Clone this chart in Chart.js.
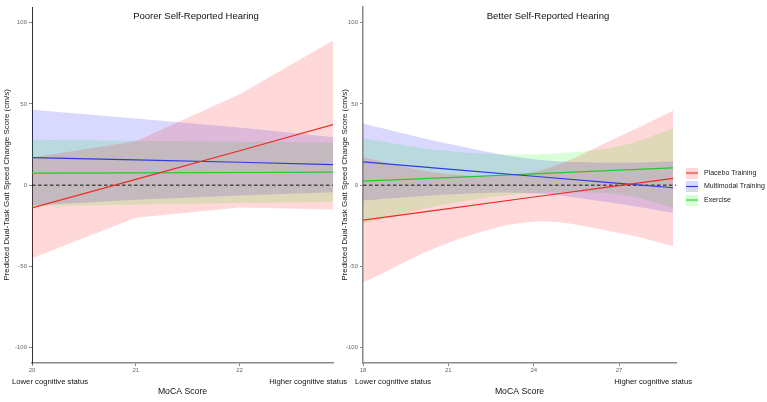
<!DOCTYPE html>
<html><head><meta charset="utf-8">
<script src="https://cdn.jsdelivr.net/npm/chart.js@4.4.1/dist/chart.umd.min.js"></script>
<style>
html,body{margin:0;padding:0;background:#fff;overflow:hidden;width:767px;height:402px;}
#c1{position:absolute;left:0;top:0;width:350px;height:402px;}
#c2{position:absolute;left:340px;top:0;width:427px;height:402px;}
</style></head><body>
<canvas id="c1" width="350" height="402"></canvas>
<canvas id="c2" width="427" height="402"></canvas>
<script>
// ---------- data ----------
const seriesNames = ['Placebo Training', 'Multimodal Training', 'Exercise'];
const panelTitles = ['Poorer Self-Reported Hearing', 'Better Self-Reported Hearing'];
const yTickValues = [-100, -50, 0, 50, 100];

// Poorer self-reported hearing
const poorX = [20, 21, 22, 22.9];
const poorXTicks = [20, 21, 22];
const poorPlacebo   = [-14, 3.6, 21.2, 37.3];
const poorPlaceboLo = [-45, -20, -13.7, -15];
const poorPlaceboHi = [17, 27, 56, 89];
const poorMultimodal   = [17, 15.6, 14.1, 12.7];
const poorMultimodalLo = [-12.5, -9, -6.3, -4.3];
const poorMultimodalHi = [46.5, 41, 35.5, 29.6];
const poorExercise   = [7.4, 7.6, 7.8, 8];
const poorExerciseLo = [-13, -12, -11, -10.4];
const poorExerciseHi = [28, 27.4, 26.8, 26.2];

// Better self-reported hearing
const betterX = [18, 21, 24, 27, 28.9];
const betterXTicks = [18, 21, 24, 27];
const betterPlacebo   = [-21.5, -14.4, -7.3, -0.3, 4.2];
const betterPlaceboLo = [-60, -35.6, -22.6, -29.4, -37.4];
const betterPlaceboHi = [17, 6.8, 8, 30, 46];
const betterMultimodal   = [14.3, 9.9, 5.5, 1.1, -1.6];
const betterMultimodalLo = [-9.4, -5.7, -5, -11.6, -17.2];
const betterMultimodalHi = [38, 25.5, 16, 13.8, 14.5];
const betterExercise   = [2.5, 4.7, 7, 9.2, 10.6];
const betterExerciseLo = [-23.8, -11.6, -5, -5.6, -13.8];
const betterExerciseHi = [28.8, 21, 19, 24, 35];

const zeroLevel = 0;

// ---------- styles ----------
const FONT = "'Liberation Sans', Arial, Helvetica, sans-serif";
const lineColors = ['rgb(235,45,35)', 'rgb(45,60,225)', 'rgb(40,200,40)'];
const bandColors = ['rgba(255,0,0,0.15)', 'rgba(0,0,255,0.15)', 'rgba(0,255,0,0.15)'];

function keyImage(fill, stroke) {
  const c = document.createElement('canvas');
  c.width = 12; c.height = 11;
  const g = c.getContext('2d');
  g.fillStyle = fill; g.fillRect(0, 0, 12, 11);
  g.strokeStyle = stroke; g.lineWidth = 1.2;
  g.beginPath(); g.moveTo(0, 5.5); g.lineTo(12, 5.5); g.stroke();
  return c;
}
const keyImages = lineColors.map((c, i) => keyImage(bandColors[i], c));

function pts(xs, ys) { return xs.map((x, i) => ({x: x, y: ys[i]})); }

function buildDatasets(xs, lines, los, his, xmin, xmax, tension) {
  const ds = [];
  lines.forEach((ys, i) => ds.push({
    label: seriesNames[i], data: pts(xs, ys), borderColor: lineColors[i], borderWidth: 1.2,
    pointRadius: 0, fill: false, order: 0, tension: 0
  }));
  ds.push({label: 'zero', data: [{x: xmin, y: zeroLevel}, {x: xmax, y: zeroLevel}],
    borderColor: '#111', borderWidth: 1, borderDash: [3.5, 2.5], pointRadius: 0, fill: false, order: 1});
  his.forEach((hi, i) => {
    const hiIdx = ds.length;
    ds.push({label: 'hi' + i, data: pts(xs, hi), borderWidth: 0, borderColor: 'rgba(0,0,0,0)',
      backgroundColor: bandColors[i], pointRadius: 0, fill: hiIdx + 1, order: 2 + i, tension: tension});
    ds.push({label: 'lo' + i, data: pts(xs, los[i]), borderWidth: 0, borderColor: 'rgba(0,0,0,0)',
      pointRadius: 0, fill: false, order: 2 + i, tension: tension});
  });
  return ds;
}

const decorPlugin = {
  id: 'panelDecor',
  afterLayout(chart, args, opts) {
    if (opts.legendShift && chart.legend) chart.legend.bottom -= opts.legendShift;
  },
  afterDraw(chart, args, opts) {
    const ctx = chart.ctx, a = chart.chartArea;
    ctx.save();
    ctx.fillStyle = '#111';
    ctx.textBaseline = 'middle';
    ctx.font = '9.5px ' + FONT;
    ctx.textAlign = 'center';
    ctx.fillText(opts.title, (a.left + a.right) / 2 + opts.titleDx, 16);
    ctx.font = '7.7px ' + FONT;
    ctx.textAlign = 'left';
    ctx.fillText('Lower cognitive status', a.left + opts.lowDx, 381.5);
    ctx.textAlign = 'right';
    ctx.fillText('Higher cognitive status', a.right + opts.highDx, 381.5);
    ctx.restore();
  }
};

function makeChart(id, xs, lines, los, his, xmin, xmax, xTicks, tension, cfg) {
  return new Chart(document.getElementById(id), {
    type: 'line',
    data: {datasets: buildDatasets(xs, lines, los, his, xmin, xmax, tension)},
    plugins: [decorPlugin],
    options: {
      responsive: false, animation: false, events: [],
      layout: {padding: {top: 7, right: cfg.padRight, left: 0, bottom: 0}},
      scales: {
        x: {
          type: 'linear', min: xmin, max: xmax,
          afterBuildTicks: s => { s.ticks = xTicks.map(v => ({value: v})); },
          afterFit: s => { s.height = 39; },
          grid: {display: true, drawOnChartArea: false, drawTicks: true, tickLength: 3, color: '#888'},
          border: {display: true, color: '#8a8a8a', width: 1.5},
          ticks: {font: {size: 6, family: FONT}, color: '#666', padding: 1, maxRotation: 0, autoSkip: false},
          title: {display: true, text: 'MoCA Score', font: {size: 8.7, family: FONT}, color: '#111',
                  padding: {top: 0, bottom: 5}}
        },
        y: {
          type: 'linear', min: -109.5, max: 109.7,
          afterBuildTicks: s => { s.ticks = yTickValues.map(v => ({value: v})); },
          afterFit: s => { s.width = cfg.yWidth; },
          grid: {display: true, drawOnChartArea: false, drawTicks: true, tickLength: 3, color: '#888'},
          border: {display: true, color: cfg.yAxisColor, width: cfg.yAxisWidth},
          ticks: {font: {size: 6, family: FONT}, color: '#666', padding: 2},
          title: {display: true, text: 'Predicted Dual-Task Gait Speed Change Score (cm/s)',
                  font: {size: 8, family: FONT}, color: '#1a1a1a', padding: {top: cfg.yTitlePad, bottom: 0}}
        }
      },
      plugins: {
        tooltip: {enabled: false},
        legend: cfg.legend ? {
          display: true, position: 'right', maxWidth: 91,
          labels: {
            usePointStyle: true, pointStyleWidth: 18, padding: 6.5,
            font: {size: 7, family: FONT}, color: '#1a1a1a',
            filter: item => item.datasetIndex < 3,
            generateLabels: chart => Chart.defaults.plugins.legend.labels.generateLabels(chart)
              .filter(it => it.datasetIndex < 3)
              .map(it => Object.assign(it, {pointStyle: keyImages[it.datasetIndex]}))
          }
        } : {display: false},
        panelDecor: cfg.decor
      }
    }
  });
}

makeChart('c1', poorX,
  [poorPlacebo, poorMultimodal, poorExercise],
  [poorPlaceboLo, poorMultimodalLo, poorExerciseLo],
  [poorPlaceboHi, poorMultimodalHi, poorExerciseHi],
  20, 22.9, poorXTicks, 0,
  {padRight: 17, yWidth: 32, yAxisColor: '#333', yAxisWidth: 1, yTitlePad: 2, legend: false,
   decor: {title: panelTitles[0], titleDx: 13.5, lowDx: -20, highDx: 14, legendShift: 0}});

makeChart('c2', betterX,
  [betterPlacebo, betterMultimodal, betterExercise],
  [betterPlaceboLo, betterMultimodalLo, betterExerciseLo],
  [betterPlaceboHi, betterMultimodalHi, betterExerciseHi],
  18, 29, betterXTicks, 0.35,
  {padRight: 0, yWidth: 23, yAxisColor: '#8a8a8a', yAxisWidth: 1.5, yTitlePad: 0, legend: true,
   decor: {title: panelTitles[1], titleDx: 28.5, lowDx: -8, highDx: 16, legendShift: 36}});
</script>
</body></html>
